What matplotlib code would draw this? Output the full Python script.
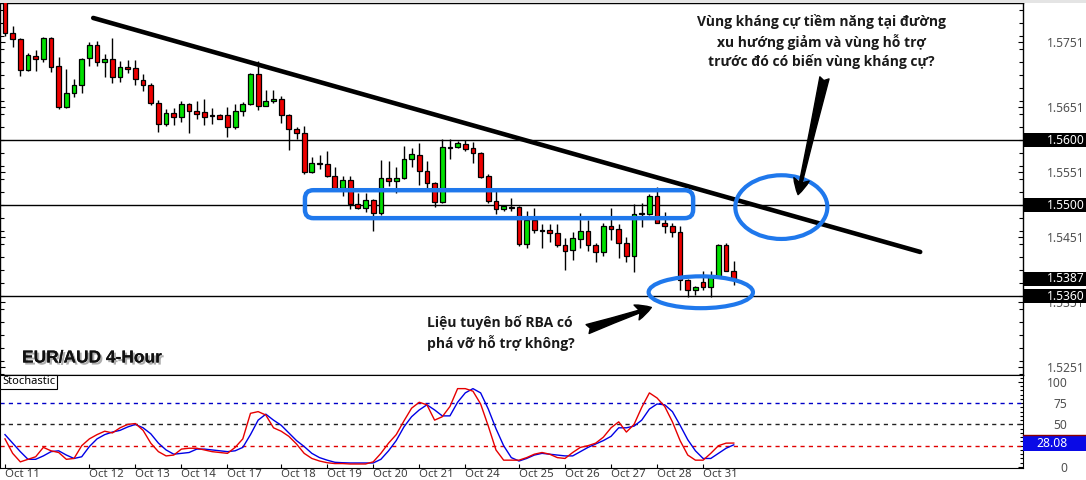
import numpy as np
import matplotlib
matplotlib.use("Agg")
import matplotlib.pyplot as plt
from matplotlib.patches import Ellipse, FancyBboxPatch, FancyArrowPatch, Rectangle
import matplotlib.patheffects as pe
from matplotlib.ticker import MultipleLocator

# EUR/AUD 4H candles
opens = [1.5831, 1.5765, 1.5756, 1.5708, 1.5730, 1.5725, 1.5757, 1.5714, 1.5651, 1.5673,
         1.5685, 1.5726, 1.5746, 1.5720, 1.5725, 1.5697, 1.5713, 1.5711, 1.5693, 1.5685,
         1.5657, 1.5625, 1.5642, 1.5636, 1.5656, 1.5645, 1.5643, 1.5638, 1.5639, 1.5639,
         1.5620, 1.5645, 1.5656, 1.5702, 1.5653, 1.5660, 1.5663, 1.5639, 1.5617, 1.5611,
         1.5551, 1.5565, 1.5563, 1.5545, 1.5526, 1.5539, 1.5502, 1.5496, 1.5508, 1.5488,
         1.5542, 1.5537, 1.5542, 1.5571, 1.5577, 1.5553, 1.5534, 1.5505, 1.5588, 1.5590,
         1.5594, 1.5588, 1.5580, 1.5545, 1.5506, 1.5494, 1.5497, 1.5497, 1.5440, 1.5477,
         1.5462, 1.5462, 1.5457, 1.5439, 1.5431, 1.5448, 1.5460, 1.5439, 1.5428, 1.5468,
         1.5463, 1.5442, 1.5422, 1.5487, 1.5487, 1.5514, 1.5473, 1.5468, 1.5459, 1.5385,
         1.5370, 1.5382, 1.5374, 1.5390, 1.5439, 1.5399]
highs = [1.5835, 1.5776, 1.5757, 1.5734, 1.5739, 1.5759, 1.5758, 1.5728, 1.5710, 1.5694,
         1.5726, 1.5751, 1.5753, 1.5733, 1.5757, 1.5722, 1.5723, 1.5723, 1.5702, 1.5688,
         1.5662, 1.5648, 1.5650, 1.5660, 1.5657, 1.5660, 1.5663, 1.5650, 1.5640, 1.5651,
         1.5656, 1.5659, 1.5703, 1.5722, 1.5677, 1.5677, 1.5668, 1.5640, 1.5620, 1.5622,
         1.5574, 1.5577, 1.5583, 1.5559, 1.5545, 1.5545, 1.5519, 1.5519, 1.5510, 1.5570,
         1.5568, 1.5559, 1.5591, 1.5588, 1.5596, 1.5568, 1.5536, 1.5602, 1.5602, 1.5599,
         1.5600, 1.5597, 1.5582, 1.5548, 1.5526, 1.5500, 1.5511, 1.5498, 1.5491, 1.5496,
         1.5471, 1.5471, 1.5471, 1.5450, 1.5459, 1.5488, 1.5477, 1.5442, 1.5473, 1.5496,
         1.5471, 1.5451, 1.5502, 1.5503, 1.5517, 1.5528, 1.5490, 1.5473, 1.5468, 1.5386,
         1.5376, 1.5399, 1.5399, 1.5440, 1.5442, 1.5414]
lows = [1.5760, 1.5743, 1.5699, 1.5707, 1.5706, 1.5720, 1.5705, 1.5648, 1.5650, 1.5666,
        1.5673, 1.5714, 1.5714, 1.5697, 1.5688, 1.5690, 1.5703, 1.5685, 1.5676, 1.5654,
        1.5613, 1.5622, 1.5623, 1.5628, 1.5611, 1.5633, 1.5623, 1.5625, 1.5632, 1.5605,
        1.5617, 1.5637, 1.5654, 1.5646, 1.5652, 1.5657, 1.5626, 1.5585, 1.5602, 1.5548,
        1.5549, 1.5556, 1.5544, 1.5525, 1.5514, 1.5494, 1.5494, 1.5490, 1.5460, 1.5485,
        1.5530, 1.5519, 1.5540, 1.5559, 1.5531, 1.5526, 1.5497, 1.5503, 1.5571, 1.5588,
        1.5583, 1.5565, 1.5542, 1.5503, 1.5487, 1.5491, 1.5491, 1.5437, 1.5434, 1.5457,
        1.5434, 1.5443, 1.5436, 1.5400, 1.5416, 1.5434, 1.5430, 1.5413, 1.5422, 1.5447,
        1.5419, 1.5413, 1.5397, 1.5467, 1.5485, 1.5472, 1.5457, 1.5451, 1.5370, 1.5359,
        1.5362, 1.5370, 1.5359, 1.5389, 1.5398, 1.5377]
closes = [1.5765, 1.5756, 1.5708, 1.5731, 1.5725, 1.5757, 1.5713, 1.5651, 1.5673, 1.5685,
          1.5725, 1.5746, 1.5720, 1.5725, 1.5697, 1.5713, 1.5710, 1.5694, 1.5685, 1.5657,
          1.5625, 1.5642, 1.5636, 1.5656, 1.5645, 1.5640, 1.5636, 1.5637, 1.5633, 1.5620,
          1.5645, 1.5656, 1.5702, 1.5653, 1.5660, 1.5663, 1.5639, 1.5617, 1.5611, 1.5551,
          1.5565, 1.5563, 1.5545, 1.5526, 1.5539, 1.5502, 1.5496, 1.5508, 1.5488, 1.5542,
          1.5537, 1.5542, 1.5571, 1.5579, 1.5553, 1.5534, 1.5505, 1.5590, 1.5589, 1.5596,
          1.5586, 1.5580, 1.5543, 1.5506, 1.5494, 1.5499, 1.5496, 1.5440, 1.5477, 1.5462,
          1.5461, 1.5457, 1.5439, 1.5430, 1.5450, 1.5460, 1.5439, 1.5428, 1.5468, 1.5463,
          1.5442, 1.5422, 1.5487, 1.5488, 1.5514, 1.5473, 1.5468, 1.5459, 1.5385, 1.5370,
          1.5374, 1.5374, 1.5390, 1.5439, 1.5399, 1.5387]

# Stochastic %K (red) and %D (blue)
stoch_k = [33, 16, 6, 9, 12, 23, 19, 17, 9, 10, 25, 33, 38, 42, 40, 46, 50, 51, 43, 28,
           18, 13, 14, 21, 22, 22, 20, 18, 17, 16, 23, 33, 63, 65, 61, 46, 42, 36, 27, 16,
           10, 7, 5, 4, 4, 3.5, 3.5, 3.5, 6, 16, 28, 38, 54, 69, 76, 73, 55, 59, 71, 92,
           92, 89, 74, 48, 20, 8, 8, 8, 11, 15, 17, 15, 11, 10, 17, 23, 25, 28, 35, 46,
           53, 41, 50, 70, 87, 81, 71, 53, 31, 14, 8, 8, 16, 25, 28, 28.08]
stoch_d = [38, 28, 18, 9, 9, 13, 18, 19, 14, 10, 12, 24, 33, 38, 41, 43, 47, 50, 46, 39,
           28, 20, 15, 16, 17, 21, 21, 20, 19, 18, 19, 23, 38, 55, 62, 55, 49, 40, 31, 24,
           16, 11, 8, 5.5, 5, 4.7, 4.7, 4.7, 4.7, 9, 19, 31, 47, 59, 67, 73, 67, 60, 60, 76,
           87, 92, 87, 68, 45, 25, 11, 7, 10, 14, 16, 15, 14, 13, 13, 18, 23, 27, 31, 36,
           46, 46, 48, 55, 68, 74, 73, 65, 49, 32, 19, 10, 10, 16, 22, 26]

date_labels = ["Oct 11", "Oct 12", "Oct 13", "Oct 14", "Oct 17", "Oct 18", "Oct 19", "Oct 20",
               "Oct 21", "Oct 24", "Oct 25", "Oct 26", "Oct 27", "Oct 28", "Oct 31"]
date_pos = [0, 11, 17, 23, 29, 36, 42, 48, 54, 60, 67, 73, 79, 85, 91]

levels = [1.5600, 1.5500, 1.5360]
price_tags = [1.5600, 1.5500, 1.5387, 1.5360]
price_ticks = [1.5251, 1.5351, 1.5451, 1.5551, 1.5651, 1.5751]
stoch_ticks = [0, 25, 50, 75, 100]
stoch_tick_labels = ["0", "", "50", "75", "100"]  # 25 sits under the 28.08 tag
stoch_last = 28.08

# trend line and markup (index, price)
trend_x = [11.5, 119.3]
trend_y = [1.5788, 1.5428]
zone_x = [39.1, 89.7]
zone_y = [1.5480, 1.5523]

W, H = 1086, 480
fig = plt.figure(figsize=(W / 100, H / 100), dpi=100)
fig.patch.set_facecolor("white")

ax = fig.add_axes([0, 1 - 375 / H, 1023 / W, 372 / H])
ax2 = fig.add_axes([0, 1 - 468 / H, 1023 / W, 93 / H])

n = len(opens)
idx = np.arange(n)
o = np.array(opens)
c = np.array(closes)
up = c >= o
body_lo = np.minimum(o, c)
body_h = np.maximum(np.abs(c - o), 0.00005)

ax.vlines(idx, lows, highs, color="black", lw=1, zorder=2)
ax.bar(idx, body_h, bottom=body_lo, width=0.62,
       color=["#00e000" if u else "#ee0000" for u in up],
       edgecolor="black", linewidth=0.9, zorder=3)

for lv in levels:
    ax.axhline(lv, color="black", lw=1, zorder=1)

ax.plot(trend_x, trend_y, color="black", lw=3.3, solid_capstyle="round", zorder=4)

blue = "#1f78ec"
ax.add_patch(FancyBboxPatch((zone_x[0], zone_y[0]), zone_x[1] - zone_x[0], zone_y[1] - zone_y[0],
                            boxstyle="round,pad=0,rounding_size=1.1", mutation_aspect=7.67 / 6500,
                            fill=False, ec=blue, lw=3.2, zorder=5))
ax.add_patch(Ellipse((101.2, 1.5497), 12.0, 0.0098, fill=False, ec=blue, lw=3.0, zorder=5))
ax.add_patch(Ellipse((90.7, 1.5366), 13.6, 0.0049, fill=False, ec=blue, lw=3.0, zorder=5))

arrow_style = "fancy,head_length=0.75,head_width=0.75,tail_width=0.45"
ax.add_patch(FancyArrowPatch((106.9, 1.5700), (103.3, 1.5512), arrowstyle=arrow_style,
                             mutation_scale=15, color="black", zorder=6))
ax.add_patch(FancyArrowPatch((75.6, 1.5308), (84.6, 1.5344), arrowstyle=arrow_style,
                             mutation_scale=15, color="black", zorder=6))

ax.set_xlim(-0.65, 132.7)
ax.set_ylim(1.52387, 1.5811)
ax.set_xticks([])
ax.set_yticks(price_ticks)
ax.set_yticklabels([f"{t:.4f}" for t in price_ticks])
ax.yaxis.set_minor_locator(MultipleLocator(0.002))
ax.tick_params(axis="y", which="both", direction="in", left=True, right=True,
               labelleft=False, labelright=True, length=3.6, width=0.8,
               pad=17, labelsize=8.7, labelcolor="#505050", labelfontfamily="Noto Sans")
ax.tick_params(axis="y", which="minor", length=3)
for sp in ax.spines.values():
    sp.set_linewidth(1)

# price tags on the right axis
tag_tf = ax.get_yaxis_transform()
for p in price_tags:
    ax.add_patch(Rectangle((1.0, p - 0.00108), 63 / 1023, 0.00216, transform=tag_tf,
                           fc="black", ec="none", clip_on=False, zorder=8))
    ax.text(1047 / 1023, p, f"{p:.4f}", transform=tag_tf, color="white", fontsize=8.7,
            family="Noto Sans", ha="left", va="center", clip_on=False, zorder=9)

# Stochastic panel
ax2.axhline(75, color="#0000c8", lw=1, ls=(0, (3, 3)))
ax2.axhline(50, color="#222222", lw=1, ls=(0, (3, 3)))
ax2.axhline(25, color="#e00000", lw=1, ls=(0, (3, 3)))
ax2.plot(idx, stoch_d, color="#0000e6", lw=1, zorder=3)
ax2.plot(idx, stoch_k, color="#e60000", lw=1, zorder=3)
ax2.set_xlim(-0.65, 132.7)
ax2.set_ylim(-1.2, 108)
ax2.set_yticks(stoch_ticks)
ax2.set_yticklabels(stoch_tick_labels)
ax2.yaxis.set_minor_locator(MultipleLocator(5))
ax2.tick_params(axis="y", which="both", direction="in", left=False, right=True,
                labelleft=False, labelright=True, length=3.6, width=0.8,
                pad=32, labelsize=8.7, labelcolor="#505050", labelfontfamily="Noto Sans")
ax2.tick_params(axis="y", which="minor", length=2.5)
plt.setp(ax2.get_yticklabels(), ha="right")
ax2.set_xticks(date_pos)
ax2.set_xticklabels(date_labels, ha="left")
ax2.tick_params(axis="x", direction="in", length=3, pad=1, labelsize=8.2,
                labelcolor="#404040", labelfontfamily="Noto Sans")

s_tf = ax2.get_yaxis_transform()
ax2.add_patch(Rectangle((1.0, stoch_last - 9.4), 63 / 1023, 18.8, transform=s_tf,
                        fc="#0a0ae6", ec="none", clip_on=False, zorder=8))
ax2.plot([1.0, 1086 / 1023], [stoch_last + 9.4] * 2, transform=s_tf, color="#8b0000",
         lw=1, clip_on=False, zorder=9)
ax2.text(1068 / 1023, stoch_last, f"{stoch_last:.2f}", transform=s_tf, color="white",
         fontsize=8.7, family="Noto Sans", ha="right", va="center", clip_on=False, zorder=9)
ax2.text(0.002, 0.985, "Stochastic", transform=ax2.transAxes, fontsize=8, family="Noto Sans",
         ha="left", va="top", zorder=9,
         bbox=dict(boxstyle="square,pad=0.15", fc="white", ec="black", lw=0.8))

# texts
fig.patches.append(Rectangle((0, 1 - 2.5 / H), 1, 2.5 / H, transform=fig.transFigure,
                             fc="#e4e4e4", ec="none"))
fig.text(821 / W, 1 - 41.5 / H,
         "Vùng kháng cự tiềm năng tại đường\nxu hướng giảm và vùng hỗ trợ\ntrước đó có biến vùng kháng cự?",
         ha="center", va="center", fontsize=10, fontweight="bold", family="Open Sans",
         color="#1a1a1a", linespacing=1.35)
fig.text(427 / W, 1 - 333 / H, "Liệu tuyên bố RBA có\nphá vỡ hỗ trợ không?",
         ha="left", va="center", fontsize=10, fontweight="bold", family="Open Sans",
         color="#1a1a1a", linespacing=1.35)
fig.text(22 / W, 1 - 358 / H, "EUR/AUD 4-Hour", ha="left", va="center", fontsize=12.5,
         fontweight="bold", family="Liberation Sans", color="#111111",
         path_effects=[pe.withSimplePatchShadow(offset=(1.5, -1.5), shadow_rgbFace="#777777", alpha=0.6),
                       pe.Normal()])

fig.savefig("out.png", dpi=100)
